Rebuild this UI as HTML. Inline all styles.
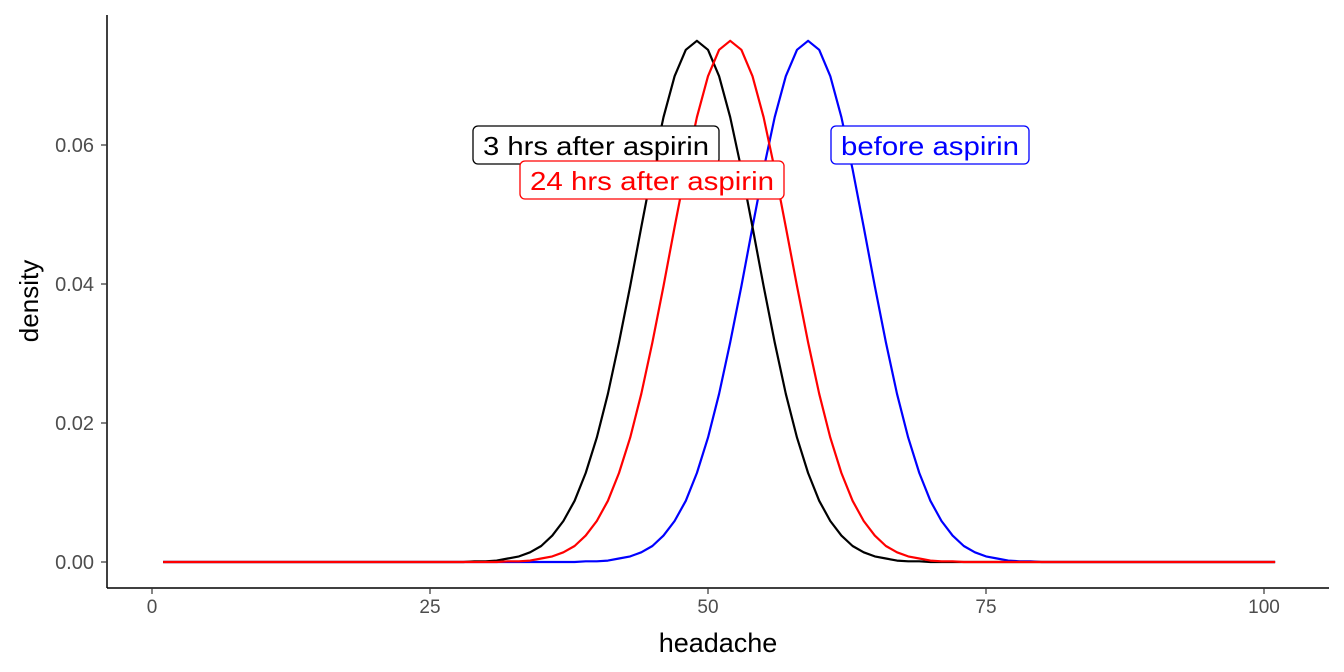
<!DOCTYPE html>
<html><head><meta charset="utf-8"><style>
body{margin:0;background:#fff}
svg{display:block;font-family:"Liberation Sans",Arial,sans-serif}
</style></head><body>
<svg id="chart" width="1344" height="672">
<g id="plot"></g>
</svg>
<script>
const xTicks=[0,25,50,75,100];
const yTicks=[0,0.02,0.04,0.06];
const yTickLabels=["0.00","0.02","0.04","0.06"];
const xStart=1;
const blackVals=[0,0,0,0,0,0,0,0,0,0,0,0,0,0,0,0,0,0,0,0,0,0,0,0,0,0,0,0,
0.0001,0.0001,0.0002,0.0005,0.0008,0.0014,0.0023,0.0038,0.0059,0.0088,0.0128,0.0179,0.0242,0.0316,0.0397,0.0482,0.0565,0.0640,0.0699,0.0737,0.0750,0.0737,0.0699,0.0640,0.0565,0.0482,0.0397,0.0316,0.0242,0.0179,0.0128,0.0088,0.0059,0.0038,0.0023,0.0014,0.0008,0.0005,0.0002,0.0001,0.0001,
0,0,0,0,0,0,0,0,0,0,0,0,0,0,0,0,0,0,0,0,0,0,0,0,0,0,0,0,0,0,0,0];
const redVals=[0,0,0,0,0,0,0,0,0,0,0,0,0,0,0,0,0,0,0,0,0,0,0,0,0,0,0,0,0,0,0,
0.0001,0.0001,0.0002,0.0005,0.0008,0.0014,0.0023,0.0038,0.0059,0.0088,0.0128,0.0179,0.0242,0.0316,0.0397,0.0482,0.0565,0.0640,0.0699,0.0737,0.0750,0.0737,0.0699,0.0640,0.0565,0.0482,0.0397,0.0316,0.0242,0.0179,0.0128,0.0088,0.0059,0.0038,0.0023,0.0014,0.0008,0.0005,0.0002,0.0001,0.0001,
0,0,0,0,0,0,0,0,0,0,0,0,0,0,0,0,0,0,0,0,0,0,0,0,0,0,0,0,0];
const blueVals=[0,0,0,0,0,0,0,0,0,0,0,0,0,0,0,0,0,0,0,0,0,0,0,0,0,0,0,0,0,0,0,0,0,0,0,0,0,0,
0.0001,0.0001,0.0002,0.0005,0.0008,0.0014,0.0023,0.0038,0.0059,0.0088,0.0128,0.0179,0.0242,0.0316,0.0397,0.0482,0.0565,0.0640,0.0699,0.0737,0.0750,0.0737,0.0699,0.0640,0.0565,0.0482,0.0397,0.0316,0.0242,0.0179,0.0128,0.0088,0.0059,0.0038,0.0023,0.0014,0.0008,0.0005,0.0002,0.0001,0.0001,
0,0,0,0,0,0,0,0,0,0,0,0,0,0,0,0,0,0,0,0,0,0];

const NS="http://www.w3.org/2000/svg";
const g=document.getElementById('plot');
const X=v=>152+v*11.12;
const Y=v=>562-v*6950;
function mk(t,a,p){const e=document.createElementNS(NS,t);for(const k in a)e.setAttribute(k,a[k]);(p||g).appendChild(e);return e;}

function series(vals,color,name){
  let d='';vals.forEach((v,i)=>{d+=(i?'L':'M')+X(xStart+i).toFixed(1)+','+Y(v).toFixed(1);});
  const p=mk('path',{d:d,fill:'none',stroke:color,'stroke-width':2.2,'stroke-linejoin':'round'});
  
  
}
series(blueVals,'#0000ff','line-before-aspirin');
series(blackVals,'#000000','line-3hrs-after');
series(redVals,'#ff0000','line-24hrs-after');

const ax=mk('line',{x1:107,y1:15,x2:107,y2:588,stroke:'#000','stroke-width':1.5});


const bx=mk('line',{x1:107,y1:588,x2:1329,y2:588,stroke:'#000','stroke-width':1.5});


xTicks.forEach(t=>{
  mk('line',{x1:X(t),x2:X(t),y1:588,y2:594,stroke:'#333','stroke-width':1.2});
  const tx=mk('text',{x:X(t),y:613,'text-anchor':'middle','font-size':19,fill:'#4d4d4d'});
  tx.textContent=t;
  
  
});
yTicks.forEach((t,i)=>{
  mk('line',{x1:101,x2:107,y1:Y(t),y2:Y(t),stroke:'#333','stroke-width':1.2});
  const tx=mk('text',{x:94,y:Y(t)+7,'text-anchor':'end','font-size':20,fill:'#4d4d4d'});
  tx.textContent=yTickLabels[i];
  
  
});
const xt=mk('text',{x:718,y:652,'text-anchor':'middle','font-size':27,fill:'#000'});
xt.textContent='headache';


const yt=mk('text',{x:0,y:0,transform:'translate(38,301) rotate(-90)','text-anchor':'middle','font-size':26,fill:'#000'});
yt.textContent='density';



function label(x,y,w,txt,color,name){
  const r=mk('rect',{x:x,y:y,width:w,height:38,rx:5,fill:'#fff',stroke:color,'stroke-width':1.3});
  
  
  const t=mk('text',{x:x+w/2,y:y+29,'text-anchor':'middle','font-size':26,fill:color,textLength:w-20,lengthAdjust:'spacingAndGlyphs'});
  t.textContent=txt;
  
  
}
label(473,126,246,'3 hrs after aspirin','#000000','label-3hrs');
label(520,161,264,'24 hrs after aspirin','#ff0000','label-24hrs');
label(831,126,198,'before aspirin','#0000ff','label-before');
</script>
</body></html>
